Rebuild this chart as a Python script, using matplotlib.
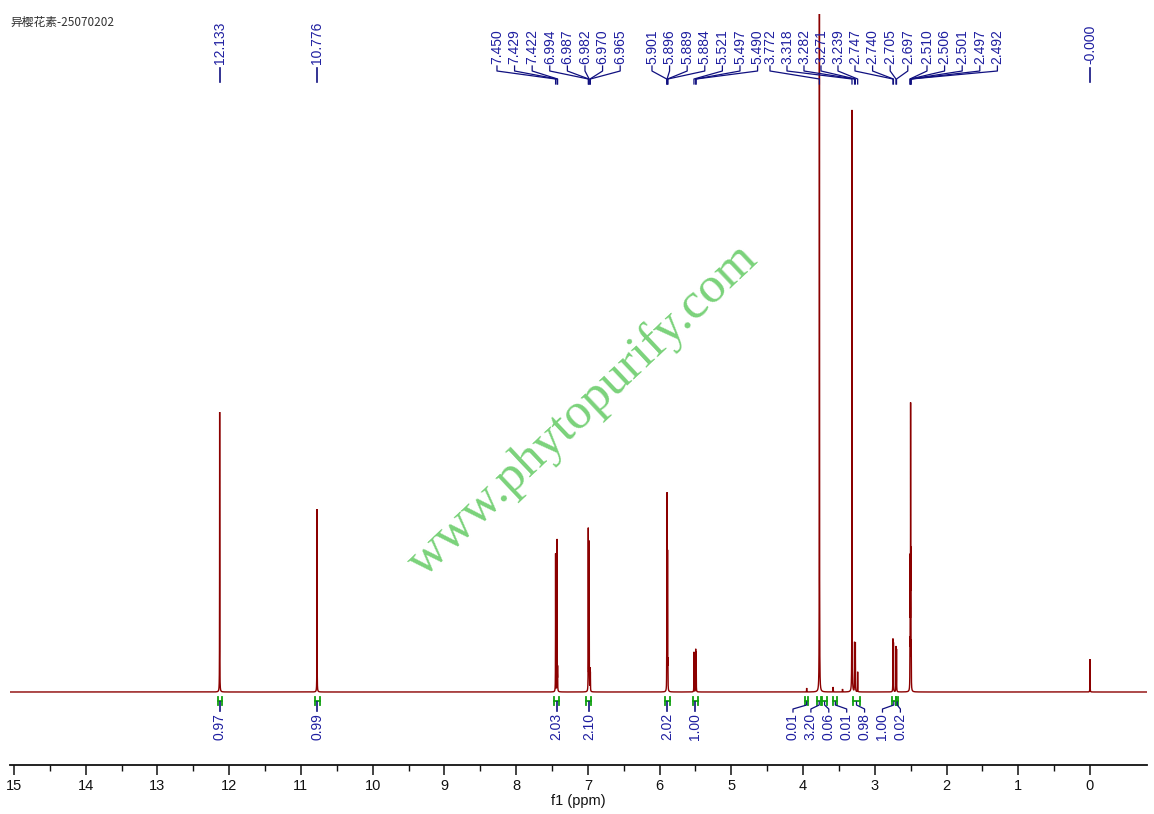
import numpy as np
import matplotlib
matplotlib.use("Agg")
import matplotlib.pyplot as plt

# ---------------- data ----------------
title_text = "异樱花素-25070202"

peak_ppm = [12.133, 10.776,
            7.450, 7.429, 7.422, 6.994, 6.987, 6.982, 6.970, 6.965,
            5.901, 5.896, 5.889, 5.884, 5.521, 5.497, 5.490,
            3.772, 3.318, 3.282, 3.271, 3.239,
            2.747, 2.740, 2.705, 2.697,
            2.510, 2.506, 2.501, 2.497, 2.492,
            0.000,
            3.950, 3.580, 3.450]
peak_height = [280, 183,
               138, 152, 22, 162, 28, 148, 22, 18,
               30, 194, 135, 25, 40, 42, 39,
               1000, 582, 49, 49, 20,
               52, 48, 45, 42,
               40, 118, 272, 118, 40,
               33,
               4, 5, 3]

label_groups = [
    [12.133],
    [10.776],
    [7.450, 7.429, 7.422, 6.994, 6.987, 6.982, 6.970, 6.965],
    [5.901, 5.896, 5.889, 5.884, 5.521, 5.497, 5.490],
    [3.772, 3.318, 3.282, 3.271, 3.239],
    [2.747, 2.740, 2.705, 2.697],
    [2.510, 2.506, 2.501, 2.497, 2.492],
    [-0.000],
]

integral_values = ["0.97", "0.99", "2.03", "2.10", "2.02", "1.00",
                   "0.01", "3.20", "0.06", "0.01", "0.98", "1.00", "0.02"]
integral_ranges = [(12.16, 12.10), (10.80, 10.74), (7.47, 7.40), (7.02, 6.95),
                   (5.92, 5.86), (5.54, 5.46),
                   (3.97, 3.93), (3.80, 3.75), (3.74, 3.66), (3.58, 3.52),
                   (3.30, 3.21), (2.76, 2.71), (2.705, 2.67)]

x_ticks = list(range(0, 16))

# ---------------- figure ----------------
W, H = 1154, 814
fig = plt.figure(figsize=(W / 100, H / 100), dpi=100)
px_per_ppm = 71.73
x_left = 15 + 4 / px_per_ppm
x_right = -(1147 - 1090) / px_per_ppm
ax = fig.add_axes([10 / W, (H - 765) / H, 1137 / W, (765 - 14) / H])
ax.set_xlim(x_left, x_right)
ax.set_ylim(-73, 678)

# spectrum built from peak list (Lorentzian lines)
x = np.linspace(x_left, x_right, 240001)
y = np.zeros_like(x)
hw = 0.0012
for p, h in zip(peak_ppm, peak_height):
    y += h * hw ** 2 / ((x - p) ** 2 + hw ** 2)
ax.plot(x, y, color="#8b0000", lw=1.0, solid_joinstyle="miter")

# axes styling
for s in ["top", "left", "right"]:
    ax.spines[s].set_visible(False)
ax.spines["bottom"].set_linewidth(1.3)
ax.spines["bottom"].set_color("#111111")
ax.set_yticks([])
ax.set_xticks(x_ticks)
ax.set_xticks(np.arange(0.5, 15.5, 1.0), minor=True)
ax.tick_params(axis="x", which="major", length=7, width=1.1, direction="out",
               labelsize=10.5, pad=3, colors="#111111")
ax.tick_params(axis="x", which="minor", length=4, width=1.0, direction="out",
               colors="#111111")
for lab in ax.get_xticklabels():
    lab.set_fontfamily("Liberation Sans")
ax.set_xlabel("f1 (ppm)", fontsize=10.5, family="Liberation Sans",
              color="#111111", labelpad=1)

# helper: pixel row -> data y
def py(row):
    return 692 - row

label_color = "#1e1ea0"
line_color = "#101080"
step = 17.6 / px_per_ppm
group_starts = {2: (1090 - 497) / px_per_ppm, 3: (1090 - 652) / px_per_ppm,
                4: (1090 - 770) / px_per_ppm, 5: (1090 - 855) / px_per_ppm,
                6: (1090 - 927) / px_per_ppm}
group_steps = {4: 17.0 / px_per_ppm}

for gi, grp in enumerate(label_groups):
    if len(grp) == 1:
        v = grp[0]
        txt = "-0.000" if v == 0 else f"{v:.3f}"
        ax.text(v, py(64), txt, rotation=90, ha="center", va="bottom",
                fontsize=10, color=label_color, family="Liberation Sans",
                clip_on=False)
        ax.plot([v, v], [py(68), py(82)], color=line_color, lw=1.2,
                clip_on=False)
    else:
        start = group_starts[gi]
        st = group_steps.get(gi, step)
        for k, v in enumerate(grp):
            lx = start - k * st
            ax.text(lx, py(64), f"{v:.3f}", rotation=90, ha="center",
                    va="bottom", fontsize=10, color=label_color,
                    family="Liberation Sans", clip_on=False)
            ax.plot([lx, lx, v, v], [py(66), py(71), py(79), py(84)],
                    color=line_color, lw=0.9, clip_on=False)

# integrals
green = "#10a010"
cluster_start = (1090 - 793) / px_per_ppm
cluster_step = 17.9 / px_per_ppm
for i, (val, (a, b)) in enumerate(zip(integral_values, integral_ranges)):
    c = (a + b) / 2
    ax.plot([a, a], [py(697), py(705)], color=green, lw=1.3, clip_on=False)
    ax.plot([b, b], [py(697), py(705)], color=green, lw=1.3, clip_on=False)
    ax.plot([a, b], [py(701), py(701)], color=green, lw=1.3, clip_on=False)
    if i < 6:
        lx = c
        ax.plot([c, c], [py(702), py(711)], color=line_color, lw=1.2,
                clip_on=False)
    else:
        lx = cluster_start - (i - 6) * cluster_step
        ax.plot([c, c, lx, lx], [py(702), py(705), py(709), py(712)],
                color=line_color, lw=0.9, clip_on=False)
    ax.text(lx, py(713), val, rotation=90, ha="center", va="top",
            fontsize=10, color=label_color, family="Liberation Sans",
            clip_on=False)

# title
fig.text(10 / W, 1 - 22 / H, title_text, fontsize=8.5,
         family=["Noto Sans CJK SC", "DejaVu Sans"], color="#333333",
         ha="left", va="center")

# watermark
fig.text(583 / W, 1 - 410 / H, "www.phytopurify.com", fontsize=37,
         family="Liberation Serif", color="#7ad27a", rotation=43.3,
         rotation_mode="anchor", ha="center", va="center", zorder=10)

fig.savefig("out.png", dpi=100)
